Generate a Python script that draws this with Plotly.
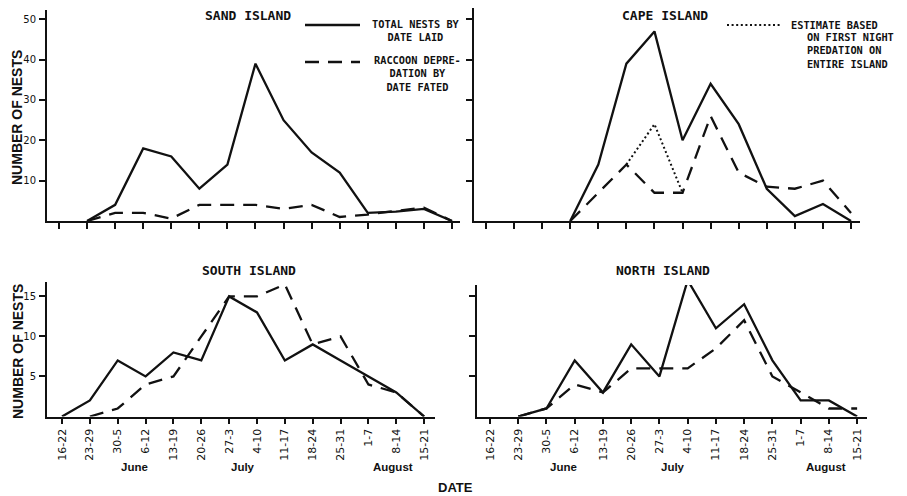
import plotly.graph_objects as go

# page body has an 8px margin, so the figure is drawn 8px in from the window corner
OFF = 8
WIN_W, WIN_H = 907, 496
W, H = WIN_W - OFF, WIN_H - OFF

# ---------------- data ----------------
periods = ["16-22", "23-29", "30-5", "6-12", "13-19", "20-26", "27-3",
           "4-10", "11-17", "18-24", "25-31", "1-7", "8-14", "15-21"]
months = ["June", "July", "August"]
month_pos = [2.6, 6.5, 11.9]          # centre of each month label, in period units

# Sand Island uses one extra (unlabelled) week slot after 15-21
sand_total   = [None, 0, 4, 18, 16, 8, 14, 39, 25, 17, 12, 2, 2.3, 3, 0]
sand_raccoon = [None, 0, 2, 2, 0.6, 4, 4, 4, 3, 4, 1, 1.6, 2.5, 3.3, 0]

cape_total    = [None, None, None, 0, 14, 39, 47, 20, 34, 24, 8, 1.2, 4.2, 0]
cape_raccoon  = [None, None, None, 0, 7, 14, 7, 7, 26, 12, 8.5, 8, 10, 2]
cape_estimate = [None, None, None, None, None, 14, 24, 7, None, None, None, None, None, None]

south_total   = [0, 2, 7, 5, 8, 7, 15, 13, 7, 9, 7, 5, 3, 0]
south_raccoon = [None, 0, 1, 4, 5, 10, 15, 15, 16.5, 9, 10, 4, 3, 0]

north_total   = [None, 0, 1, 7, 3, 9, 5, 17, 11, 14, 7, 2, 2, 0]
north_raccoon = [None, 0, 1, 4, 3, 6, 6, 6, 8.5, 12, 5, 3, 1, 1]

titles = ["SAND ISLAND", "CAPE ISLAND", "SOUTH ISLAND", "NORTH ISLAND"]

# ---------------- styling ----------------
FONT = "DejaVu Sans"
MONO = "DejaVu Sans Mono"
BOLD = "Liberation Sans"
BLACK = "#111111"
LW = 2.3
DASH = "14px,9px"
DOT = "2px,2.6px"

def clamp(v):
    return min(1.0, max(0.0, v))

def pxx(p):
    return (p - OFF) / W

def pxy(p):
    return 1 - (p - OFF) / H

fig = go.Figure()

def add_line(xa, ya, values, dash):
    fig.add_trace(go.Scatter(
        x=list(range(len(values))), y=values, mode="lines",
        line=dict(color=BLACK, width=LW if dash != DOT else 2, dash=dash),
        xaxis=xa, yaxis=ya, showlegend=False, hoverinfo="skip",
        cliponaxis=False, connectgaps=False))

add_line("x", "y", sand_total, "solid")
add_line("x", "y", sand_raccoon, DASH)
add_line("x2", "y2", cape_total, "solid")
add_line("x2", "y2", cape_raccoon, DASH)
add_line("x2", "y2", cape_estimate, DOT)
add_line("x3", "y3", south_total, "solid")
add_line("x3", "y3", south_raccoon, DASH)
add_line("x4", "y4", north_total, "solid")
add_line("x4", "y4", north_raccoon, DASH)

axis_common = dict(showgrid=False, zeroline=False, showline=True, linecolor=BLACK,
                   linewidth=1.8, ticks="outside", tickcolor=BLACK, tickwidth=1.5,
                   ticklen=6, fixedrange=True)

# x px domain, y px (bottom, top), x range, y range, n ticks, x labels, y ticks, y labels
panels = [
    dict(xd=(47, 460), yd=(221, 10), xr=(-0.4275, 14.286), yr=(0, 52.3), nt=15, xl=False, yt=[10, 20, 30, 40, 50], yl=True),
    dict(xd=(474, 860), yd=(221, 8), xr=(-0.427, 13.32), yr=(0, 52.8), nt=14, xl=False, yt=[10, 20, 30, 40, 50], yl=False),
    dict(xd=(47, 435), yd=(416.5, 282), xr=(-0.539, 13.39), yr=(0, 16.8), nt=14, xl=True, yt=[5, 10, 15], yl=True),
    dict(xd=(477, 867), yd=(416.5, 285), xr=(-0.46, 13.35), yr=(0, 16.4), nt=14, xl=True, yt=[5, 10, 15], yl=False),
]

layout = {}
for i, p in enumerate(panels):
    sx = "" if i == 0 else str(i + 1)
    tv = list(range(p["nt"]))
    tt = [periods[k] if (p["xl"] and k < len(periods)) else "" for k in tv]
    layout["xaxis" + sx] = dict(
        axis_common, domain=[clamp(pxx(p["xd"][0])), clamp(pxx(p["xd"][1]))], range=list(p["xr"]),
        anchor="y" + sx, tickmode="array", tickvals=tv, ticktext=tt,
        tickangle=-90, tickfont=dict(family=FONT, size=11, color=BLACK),
        showticklabels=p["xl"])
    layout["yaxis" + sx] = dict(
        axis_common, domain=[clamp(pxy(p["yd"][0])), clamp(pxy(p["yd"][1]))], range=list(p["yr"]),
        anchor="x" + sx, tickmode="array", tickvals=p["yt"],
        ticktext=[str(v) for v in p["yt"]], showticklabels=p["yl"],
        tickfont=dict(family=FONT, size=10, color=BLACK), ticklabelstandoff=1)

annotations = []

def ann(text, x, y, size=10, family=FONT, xanchor="center", yanchor="middle", align="center", angle=0):
    annotations.append(dict(text=text, x=pxx(x), y=pxy(y), xref="paper", yref="paper",
                            showarrow=False, xanchor=xanchor, yanchor=yanchor, align=align,
                            textangle=angle, font=dict(family=family, size=size, color=BLACK)))

# panel titles
ann("<b>" + titles[0] + "</b>", 248, 15, size=13, family=MONO)
ann("<b>" + titles[1] + "</b>", 665, 15, size=13, family=MONO)
ann("<b>" + titles[2] + "</b>", 249, 270, size=13, family=MONO)
ann("<b>" + titles[3] + "</b>", 663, 270, size=13, family=MONO)

# y axis titles
ann("<b>NUMBER OF NESTS</b>", 17, 118, size=14, family=BOLD, angle=-90)
ann("<b>NUMBER OF NESTS</b>", 18, 352, size=14, family=BOLD, angle=-90)

# month labels (bottom panels)
for x0, step in [(62, 27.85), (490, 28.23)]:
    for m, pos in zip(months, month_pos):
        ann("<b>" + m + "</b>", x0 + step * pos, 467, size=11.5, family=BOLD)

ann("<b>DATE</b>", 455, 487, size=13, family=BOLD)

# legends
LEG = 10.3
ann("<b>TOTAL NESTS BY<br>DATE LAID</b>", 416, 31, size=LEG, family=MONO, align="center")
ann("<b>RACCOON DEPRE-<br>DATION BY<br>DATE FATED</b>", 417, 74, size=LEG, family=MONO, align="center")
ann("<b>ESTIMATE BASED</b>", 789, 25, size=LEG, family=MONO, xanchor="left")
ann("<b>ON FIRST NIGHT<br>PREDATION ON<br>ENTIRE ISLAND</b>", 805, 50.5, size=LEG, family=MONO,
    xanchor="left", align="left")

shapes = [
    dict(type="line", xref="paper", yref="paper", x0=pxx(305), x1=pxx(360), y0=pxy(25), y1=pxy(25),
         line=dict(color=BLACK, width=LW)),
    dict(type="line", xref="paper", yref="paper", x0=pxx(305), x1=pxx(360), y0=pxy(62), y1=pxy(62),
         line=dict(color=BLACK, width=LW, dash=DASH)),
    dict(type="line", xref="paper", yref="paper", x0=pxx(727), x1=pxx(780), y0=pxy(25), y1=pxy(25),
         line=dict(color=BLACK, width=2, dash=DOT)),
]

fig.update_layout(
    width=W, height=H, margin=dict(l=0, r=0, t=0, b=0),
    paper_bgcolor="white", plot_bgcolor="white", showlegend=False,
    annotations=annotations, shapes=shapes, **layout)

fig.write_html("out.html")
